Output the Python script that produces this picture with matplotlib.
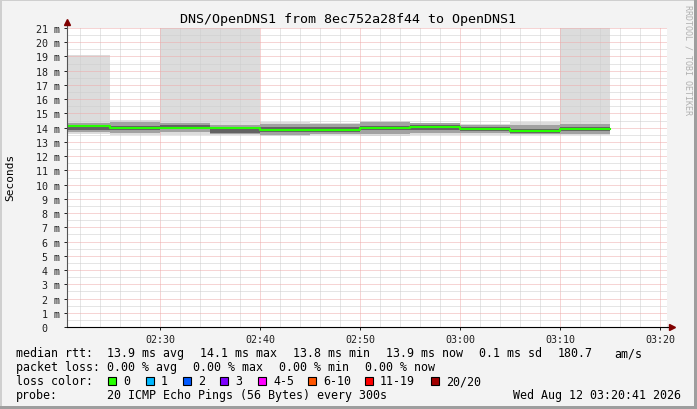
import matplotlib
matplotlib.use("Agg")
import matplotlib.pyplot as plt
import matplotlib.dates as mdates
from matplotlib.patches import Rectangle
import pandas as pd

# 5 minute buckets (start times), 20 pings each, values in ms
bucket_start = ["02:20", "02:25", "02:30", "02:35", "02:40", "02:45",
                "02:50", "02:55", "03:00", "03:05", "03:10"]
bucket_end = "03:15"
median_ms = [14.11, 13.98, 14.00, 14.00, 13.87, 13.85, 13.97, 14.02, 13.88, 13.78, 13.88]
min_ms = [13.55, 13.50, 13.50, 13.52, 13.40, 13.45, 13.40, 13.48, 13.52, 13.48, 13.48]
p10_ms = [13.68, 13.66, 13.68, 13.58, 13.52, 13.56, 13.58, 13.62, 13.60, 13.53, 13.58]
p25_ms = [13.85, 13.85, 13.88, 13.65, 13.70, 13.70, 13.82, 13.86, 13.76, 13.60, 13.76]
p75_ms = [14.20, 14.10, 14.20, 14.06, 14.06, 14.02, 14.12, 14.22, 14.06, 13.94, 14.06]
p90_ms = [14.30, 14.38, 14.34, 14.20, 14.28, 14.24, 14.38, 14.30, 14.22, 14.18, 14.28]
max_ms = [19.07, 14.55, 22.00, 22.00, 14.40, 14.32, 14.48, 14.32, 14.28, 14.42, 22.00]

loss_labels = ["0", "1", "2", "3", "4-5", "6-10", "11-19", "20/20"]
loss_colors = ["#26ff00", "#00b8ff", "#0059ff", "#7e00ff", "#ff00ff", "#ff5500", "#ff0000", "#a10000"]

y_ticks = list(range(0, 22))
y_labels = ["0  "] + [str(v) + " m" for v in y_ticks[1:]]

W, H = 697, 410
plt.rcParams['font.family'] = "DejaVu Sans Mono"


def fx(px):
    return px / W


def fy(py):
    return 1 - py / H


fig = plt.figure(figsize=(W / 100, H / 100), dpi=100, facecolor="#f3f3f3")
ax = fig.add_axes([fx(67), fy(328), 600 / W, 299 / H])
ax.set_facecolor("white")
ax.set_axisbelow(False)  # grid (zorder 2.5) over the max area, under the dense smoke

day = "2026-08-12 "
x = pd.to_datetime([day + t for t in bucket_start + [bucket_end]])


def ext(a):
    return list(a) + [a[-1]]


ax.fill_between(x, ext(min_ms), ext(max_ms), step="post", color="#dcdcdc", lw=0, zorder=1)
ax.fill_between(x, ext(p10_ms), ext(p90_ms), step="post", color="#a2a2a2", lw=0, zorder=4)
ax.fill_between(x, ext(p25_ms), ext(p75_ms), step="post", color="#636363", lw=0, zorder=5)
ax.step(x, ext(median_ms), where="post", color="#26ff00", lw=1.5, zorder=6)

ax.set_xlim(pd.Timestamp(day + "02:20:41"), pd.Timestamp(day + "03:20:41"))
ax.set_ylim(0, 21)

ax.xaxis.set_major_locator(mdates.MinuteLocator(byminute=range(0, 60, 10)))
ax.xaxis.set_minor_locator(mdates.MinuteLocator(byminute=range(0, 60, 2)))
ax.xaxis.set_major_formatter(mdates.DateFormatter("%H:%M"))
ax.set_yticks(y_ticks)
ax.set_yticklabels(y_labels)
ax.set_yticks([v + 0.5 for v in y_ticks[:-1]], minor=True)

ax.grid(which="minor", color="#cdcdcd", lw=0.72, ls=(0, (1, 1)))
ax.grid(which="major", color="#eeaaaa", lw=0.72, ls=(0, (1, 1)))

ax.tick_params(which="both", labelsize=7.2, length=2, width=0.7, pad=3, colors="#1f1f1f")
ax.tick_params(which="minor", length=0)
for s in ["top", "right"]:
    ax.spines[s].set_visible(False)
ax.spines["left"].set_color("#555555")
ax.spines["bottom"].set_color("#000000")
ax.spines["left"].set_zorder(7)
ax.spines["bottom"].set_zorder(7)

# axis arrows
ax.plot([1, 1.008], [0, 0], transform=ax.transAxes, color="black", lw=0.8, clip_on=False)
ax.plot([1.008], [0], transform=ax.transAxes, marker=">", color="#800000", ms=4, clip_on=False)
ax.plot([0, 0], [1, 1.02], transform=ax.transAxes, color="#555555", lw=0.8, clip_on=False)
ax.plot([0], [1.02], transform=ax.transAxes, marker="^", color="#800000", ms=4, clip_on=False)

fig.text(fx(348), fy(19), "DNS/OpenDNS1 from 8ec752a28f44 to OpenDNS1",
         ha="center", va="center", fontsize=9.6)
fig.text(fx(10), fy(177), "Seconds", rotation=90, ha="center", va="center", fontsize=8.0)
fig.text(fx(688), fy(5), "RRDTOOL / TOBI OETIKER", rotation=270, ha="center", va="top",
         fontsize=6, color="#b0b0b0")

fs = 8.4
rows = [
    (354, [(16, "median rtt:"), (107, "13.9 ms avg"), (200, "14.1 ms max"),
           (293, "13.8 ms min"), (386, "13.9 ms now"), (479, "0.1 ms sd"),
           (558, "180.7"), (614, "am/s")]),
    (368, [(16, "packet loss:"), (107, "0.00 % avg"), (193, "0.00 % max"),
           (279, "0.00 % min"), (365, "0.00 % now")]),
    (382, [(16, "loss color:")]),
    (396, [(16, "probe:"), (107, "20 ICMP Echo Pings (56 Bytes) every 300s"),
           (513, "Wed Aug 12 03:20:41 2026")]),
]
for ypx, items in rows:
    for xpx, s in items:
        fig.text(fx(xpx), fy(ypx), s, ha="left", va="center", fontsize=fs)

box_x = [108, 146, 183, 220, 258, 308, 365, 431]
for bx, lab, col in zip(box_x, loss_labels, loss_colors):
    fig.add_artist(Rectangle((fx(bx), fy(386)), 8 / W, 8 / H, transform=fig.transFigure,
                             facecolor=col, edgecolor="black", lw=0.8))
    fig.text(fx(bx + 15), fy(382), lab, ha="left", va="center", fontsize=fs)

# 3d-ish frame
fig.add_artist(Rectangle((0, 1 - 2 / H), 1, 2 / H, transform=fig.transFigure, color="#cfcfcf", lw=0))
fig.add_artist(Rectangle((0, 0), 2 / W, 1, transform=fig.transFigure, color="#cfcfcf", lw=0))
fig.add_artist(Rectangle((0, 0), 1, 3 / H, transform=fig.transFigure, color="#9e9e9e", lw=0))
fig.add_artist(Rectangle((1 - 3 / W, 0), 3 / W, 1, transform=fig.transFigure, color="#9e9e9e", lw=0))

fig.savefig("out.png", dpi=100, facecolor=fig.get_facecolor())
